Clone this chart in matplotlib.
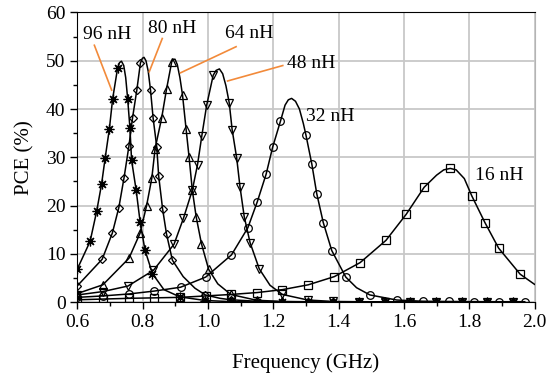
import numpy as np
import matplotlib
matplotlib.use('Agg')
import matplotlib.pyplot as plt

plt.rcParams['font.family'] = ['Liberation Serif', 'DejaVu Serif']

# marker points (GHz, %)
f96 = [0.600, 0.639, 0.659, 0.674, 0.685, 0.698, 0.708, 0.723, 0.754, 0.761, 0.766, 0.780, 0.792, 0.807, 0.830,
       0.914, 0.992, 1.070, 1.149, 1.228, 1.306, 1.384, 1.463, 1.541, 1.620, 1.698, 1.777, 1.855, 1.933]
p96 = [6.9, 12.6, 18.8, 24.4, 29.8, 35.9, 42.1, 48.4, 42.1, 36.0, 29.4, 23.2, 16.7, 10.8, 5.9,
       1.1, 0.35, 0.12, 0.06, 0.05, 0.04, 0.04, 0.03, 0.03, 0.03, 0.03, 0.03, 0.03, 0.03]
f80 = [0.600, 0.676, 0.707, 0.727, 0.743, 0.758, 0.769, 0.782, 0.793, 0.824, 0.832, 0.843, 0.849, 0.861, 0.873, 0.891,
       0.992, 1.070, 1.149, 1.228, 1.306, 1.384, 1.463, 1.541, 1.620, 1.698, 1.777, 1.855, 1.933]
p80 = [3.4, 8.9, 14.3, 19.6, 25.8, 32.4, 38.2, 43.9, 49.5, 43.9, 38.1, 32.2, 26.1, 19.3, 14.1, 8.7,
       1.5, 0.5, 0.2, 0.1, 0.08, 0.06, 0.05, 0.05, 0.04, 0.04, 0.04, 0.04, 0.04]
f64 = [0.600, 0.678, 0.758, 0.792, 0.812, 0.828, 0.838, 0.858, 0.873, 0.889, 0.922, 0.933, 0.942, 0.952, 0.964, 0.980, 1.002,
       1.070, 1.149, 1.228, 1.306, 1.384, 1.463, 1.541, 1.620, 1.698, 1.777, 1.855, 1.933]
p64 = [1.8, 3.6, 9.1, 14.3, 20.0, 25.7, 31.8, 38.1, 44.1, 49.8, 42.9, 35.8, 30.1, 23.2, 17.6, 12.1, 6.8,
       1.6, 0.4, 0.15, 0.1, 0.08, 0.06, 0.05, 0.05, 0.05, 0.05, 0.05, 0.05]
f48 = [0.600, 0.678, 0.755, 0.833, 0.896, 0.925, 0.952, 0.968, 0.981, 0.996, 1.016, 1.065, 1.074, 1.088, 1.098, 1.111, 1.129, 1.157,
       1.228, 1.306, 1.384, 1.463, 1.541, 1.620, 1.698, 1.777, 1.855, 1.933]
p48 = [1.5, 2.2, 3.35, 6.6, 12.0, 17.4, 23.2, 28.5, 34.4, 40.8, 47.0, 41.3, 35.7, 29.8, 23.9, 17.7, 12.3, 6.9,
       1.6, 0.45, 0.15, 0.1, 0.08, 0.06, 0.06, 0.05, 0.05, 0.05]
f32 = [0.600, 0.678, 0.757, 0.835, 0.916, 0.993, 1.072, 1.122, 1.151, 1.178, 1.198, 1.222, 1.300, 1.318, 1.333, 1.353, 1.379, 1.422,
       1.496, 1.578, 1.658, 1.737, 1.816, 1.892, 1.970]
p32 = [1.0, 1.3, 1.7, 2.3, 3.1, 5.2, 9.8, 15.4, 20.8, 26.5, 32.1, 37.5, 34.6, 28.6, 22.5, 16.5, 10.7, 5.2,
       1.5, 0.45, 0.2, 0.15, 0.12, 0.1, 0.1]
f16 = [0.600, 0.678, 0.757, 0.835, 0.914, 0.994, 1.070, 1.151, 1.228, 1.307, 1.387, 1.466, 1.545, 1.607, 1.662, 1.742,
       1.808, 1.848, 1.890, 1.956]
p16 = [0.5, 0.65, 0.8, 0.9, 1.0, 1.3, 1.6, 2.0, 2.6, 3.6, 5.3, 8.2, 12.8, 18.2, 23.8, 27.7,
       22.0, 16.5, 11.2, 5.8]

# extra unmarked points on the drawn curves (around peaks / steep parts)
f96_x = [0.729, 0.735, 0.742, 0.748, 0.865]
p96_x = [49.6, 49.9, 49.0, 46.5, 2.6]
f80_x = [0.799, 0.804, 0.810, 0.817, 0.924, 0.960, 1.037]
p80_x = [50.5, 50.7, 50.0, 47.8, 5.3, 2.9, 0.8]
f64_x = [0.894, 0.899, 0.906, 0.914, 1.030]
p64_x = [50.3, 50.3, 49.2, 46.5, 3.8]
f48_x = [1.025, 1.035, 1.045, 1.055, 1.190]
p48_x = [48.0, 48.3, 47.3, 44.8, 3.5]
f32_x = [1.236, 1.246, 1.256, 1.268, 1.280, 1.292, 1.455]
p32_x = [40.8, 41.9, 42.2, 41.6, 40.0, 37.0, 3.0]
f16_x = [1.700, 1.722, 1.760, 1.785, 2.000]
p16_x = [26.3, 27.4, 27.4, 25.6, 3.7]

labels = ['96 nH', '80 nH', '64 nH', '48 nH', '32 nH', '16 nH']
label_xy = [(0.690, 55.5), (0.889, 56.6), (1.127, 55.7), (1.315, 49.5), (1.373, 38.5), (1.893, 26.3)]
arrows = [((0.652, 53.2), (0.705, 43.9)), ((0.860, 54.6), (0.820, 47.7)),
          ((1.086, 52.9), (0.916, 47.5)), ((1.229, 49.0), (1.060, 45.8))]

curves = [(f96, p96, f96_x, p96_x, (8, 2, 0), 7.0),
          (f80, p80, f80_x, p80_x, 'D', 4.3),
          (f64, p64, f64_x, p64_x, '^', 5.5),
          (f48, p48, f48_x, p48_x, 'v', 5.5),
          (f32, p32, f32_x, p32_x, 'o', 5.5),
          (f16, p16, f16_x, p16_x, 's', 5.2)]

fig = plt.figure(figsize=(5.48, 3.82), dpi=100)
ax = fig.add_axes([0.1412, 0.2089, 0.8342, 0.7586])

for f, p, fx, px, mk, ms in curves:
    allf = np.array(f + fx)
    allp = np.array(p + px)
    order = np.argsort(allf)
    ax.plot(allf[order], allp[order], color='black', lw=1.1, zorder=3)
    ax.plot(f, p, ls='none', marker=mk, ms=ms, mfc='none', mec='black', mew=0.9, zorder=4)

for (x, y), t in zip(label_xy, labels):
    ax.text(x, y, t, fontsize=14, ha='center', va='center', zorder=5)
for (a, b) in arrows:
    ax.plot([a[0], b[0]], [a[1], b[1]], color='#f28a3a', lw=1.2, zorder=5, clip_on=False)

ax.set_xlim(0.6, 2.0)
ax.set_ylim(0, 60)
ax.set_xticks(np.arange(0.6, 2.01, 0.2))
ax.set_xticks(np.arange(0.7, 2.0, 0.2), minor=True)
ax.set_yticks(np.arange(0, 61, 10))
ax.set_yticks(np.arange(5, 60, 10), minor=True)
ax.set_xticklabels(['0.6', '0.8', '1.0', '1.2', '1.4', '1.6', '1.8', '2.0'])
ax.tick_params(which='major', direction='out', length=5, width=1, labelsize=14)
ax.tick_params(which='minor', direction='out', length=3, width=1)
ax.grid(True, which='major', color='#c8c8c8', lw=1.3, zorder=0)
ax.set_axisbelow(True)
ax.spines['right'].set_color('#b4b4b4')
ax.set_xlabel('Frequency (GHz)', fontsize=15, labelpad=16)
ax.set_ylabel('PCE (%)', fontsize=15, labelpad=8)

fig.savefig('out.png', dpi=100)
